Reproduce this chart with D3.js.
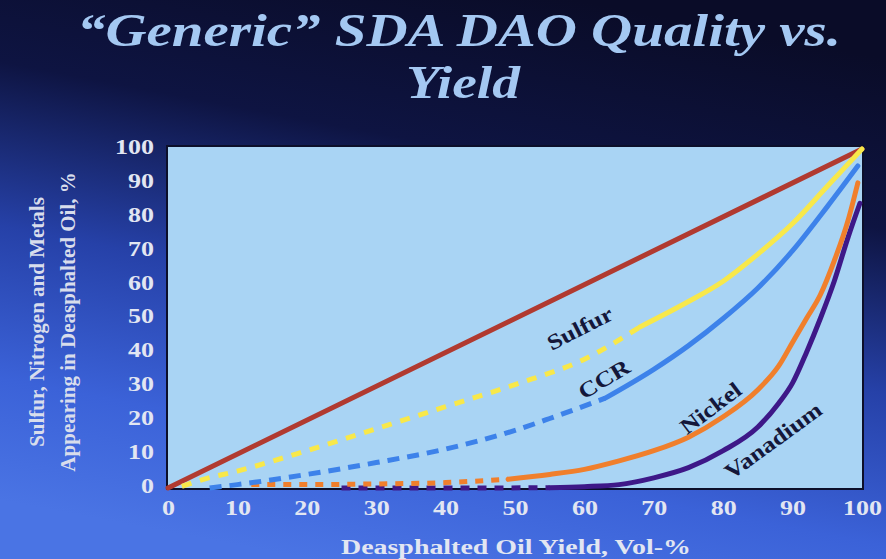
<!DOCTYPE html>
<html>
<head>
<meta charset="utf-8">
<script src="https://cdn.jsdelivr.net/npm/d3@7"></script>
<style>
  html, body { margin: 0; padding: 0; background: #0b0d2c; }
  svg { display: block; }
</style>
</head>
<body>
<svg id="chart" width="886" height="559"></svg>
<script>
// Deasphalted oil yield, vol-% (x) vs. share of each contaminant carried into DAO, % (y)
const xTicks = [0, 10, 20, 30, 40, 50, 60, 70, 80, 90, 100];
const yTicks = [0, 10, 20, 30, 40, 50, 60, 70, 80, 90, 100];

// Reference: everything follows the oil (1:1)
const refX = [0, 100];
const refY = [0, 100];

// Sulfur
const sulfurX = [2, 5, 10, 20, 30, 40, 50, 60, 68, 75, 80, 85, 90, 95, 100];
const sulfurY = [0.5, 2.5, 5, 11, 17.5, 24, 30.5, 38, 47.5, 55, 61, 69, 78, 89, 100];
const sulfurDashEnd = 68;

// Conradson carbon residue
const ccrX = [6, 10, 20, 30, 40, 50, 55, 63, 70, 75, 80, 85, 90, 95, 99.4];
const ccrY = [0, 1, 4, 7.5, 11.5, 17, 20.5, 26.5, 35, 42, 50, 59, 70, 83, 95];
const ccrDashEnd = 63;

// Nickel
const nickelX = [12, 20, 30, 40, 49, 55, 60, 65, 70, 75, 80, 85, 88, 90, 92, 94, 96, 98, 99.4];
const nickelY = [1, 1, 1.2, 1.6, 2.6, 4, 5.5, 8, 11, 15, 21, 29, 36, 43, 50, 57, 67, 79, 90];
const nickelDashEnd = 49;

// Vanadium
const vanadiumX = [25, 35, 45, 55, 60, 65, 70, 75, 80, 85, 88, 90, 92, 94, 96, 98, 99.7];
const vanadiumY = [0, 0, 0, 0.1, 0.4, 1, 3, 6, 11, 18, 25, 31, 40, 50, 61, 74, 84];
const vanadiumDashEnd = 55;

const seriesNames = ["Sulfur", "CCR", "Nickel", "Vanadium"];
const seriesColors = ["#f8e84a", "#3d82ea", "#f07f2c", "#3e1888"];
// label anchor in data units and text rotation (deg)
const labelX = [59.5, 63, 78.4, 87.4];
const labelY = [46.5, 31.5, 23, 13.4];
const labelAngle = [-27, -31, -37, -36];

const svg = d3.select("#chart");
const W = 886, H = 559;
const serif = "'Liberation Serif', 'Times New Roman', serif";
const axisColor = "#e2e6f2";

// widen a text element horizontally by a factor (or to an exact width)
function stretch(sel, factor, width) {
  sel.each(function () {
    const w = width || this.getComputedTextLength() * factor;
    d3.select(this).attr("textLength", w).attr("lengthAdjust", "spacingAndGlyphs");
  });
}

// background gradient: dark navy on top fading to royal blue at the bottom
const defs = svg.append("defs");
const bg = defs.append("linearGradient").attr("id", "bg")
  .attr("x1", "0.65").attr("y1", "0").attr("x2", "0.35").attr("y2", "1");
bg.append("stop").attr("offset", "0").attr("stop-color", "#0a0c28");
bg.append("stop").attr("offset", "0.28").attr("stop-color", "#0e1442");
bg.append("stop").attr("offset", "0.55").attr("stop-color", "#2641a8");
bg.append("stop").attr("offset", "0.8").attr("stop-color", "#3b62d8");
bg.append("stop").attr("offset", "1").attr("stop-color", "#4a74e4");
svg.append("rect").attr("width", W).attr("height", H).attr("fill", "url(#bg)");

// title
const titleStyle = s => s.attr("text-anchor", "middle").attr("fill", "#a4c8f2")
  .style("font-family", serif).style("font-weight", "bold").style("font-style", "italic")
  .style("font-size", "46px");
svg.append("text").call(titleStyle).attr("x", 459).attr("y", 46)
  .text("\u201CGeneric\u201D SDA DAO Quality vs.").call(stretch, 1, 764);
svg.append("text").call(titleStyle).attr("x", 463).attr("y", 98)
  .text("Yield").call(stretch, 1, 114);

const margin = { left: 168, right: 862, top: 149, bottom: 488 };
const x = d3.scaleLinear().domain([0, 100]).range([margin.left, margin.right]);
const y = d3.scaleLinear().domain([0, 100]).range([margin.bottom, margin.top]);

// plot area
svg.append("rect")
  .attr("x", x(0) - 1).attr("y", y(100) - 3)
  .attr("width", x(100) - x(0) + 2).attr("height", y(0) - y(100) + 4)
  .attr("fill", "#a9d4f4")
  .attr("stroke", "#0c0f2a").attr("stroke-width", 2);

// y axis
const yAxis = svg.append("g").attr("transform", `translate(${x(0) - 14},-2)`)
  .call(d3.axisLeft(y).tickValues(yTicks).tickSize(0).tickPadding(0).tickFormat(d3.format("d")));
yAxis.select(".domain").remove();
yAxis.selectAll("text")
  .attr("fill", axisColor)
  .style("font-family", serif).style("font-weight", "bold").style("font-size", "20px")
  .call(stretch, 1.3);

// x axis
const xAxis = svg.append("g").attr("transform", `translate(0,${y(0) + 13})`)
  .call(d3.axisBottom(x).tickValues(xTicks).tickSize(0).tickPadding(0).tickFormat(d3.format("d")));
xAxis.select(".domain").remove();
xAxis.selectAll("text")
  .attr("fill", axisColor)
  .style("font-family", serif).style("font-weight", "bold").style("font-size", "20px")
  .call(stretch, 1.3);

// axis titles
svg.append("text")
  .attr("x", 516).attr("y", 554)
  .attr("text-anchor", "middle").attr("fill", axisColor)
  .style("font-family", serif).style("font-weight", "bold").style("font-size", "20px")
  .text("Deasphalted Oil Yield, Vol-%").call(stretch, 1, 350);

const yTitle = svg.append("text")
  .attr("transform", "translate(0,322) rotate(-90)")
  .attr("text-anchor", "middle").attr("fill", "#d8ddec")
  .style("font-family", serif).style("font-weight", "bold").style("font-size", "21px");
yTitle.append("tspan").attr("x", 0).attr("y", 44).text("Sulfur, Nitrogen and Metals");
yTitle.append("tspan").attr("x", 0).attr("y", 75).text("Appearing in Deasphalted Oil, %");

// lines
const plot = svg.append("g");
const line = d3.line().x(d => x(d[0])).y(d => y(d[1])).curve(d3.curveMonotoneX);

function drawSeries(xs, ys, dashEnd, color, dash) {
  const pts = xs.map((v, i) => [v, ys[i]]);
  const dashed = pts.filter(p => p[0] <= dashEnd);
  const solid = pts.filter(p => p[0] >= dashEnd);
  plot.append("path").attr("d", line(dashed))
    .attr("fill", "none").attr("stroke", color).attr("stroke-width", 5)
    .attr("stroke-dasharray", dash);
  plot.append("path").attr("d", line(solid))
    .attr("fill", "none").attr("stroke", color).attr("stroke-width", 5)
    .attr("stroke-linecap", "round");
}

// 1:1 reference line
plot.append("path")
  .attr("d", d3.line().x(d => x(d[0])).y(d => y(d[1]))(refX.map((v, i) => [v, refY[i]])))
  .attr("fill", "none").attr("stroke", "#b13a30").attr("stroke-width", 5)
  .attr("stroke-linecap", "round");

drawSeries(vanadiumX, vanadiumY, vanadiumDashEnd, seriesColors[3], "9 8");
drawSeries(nickelX, nickelY, nickelDashEnd, seriesColors[2], "8 8");
drawSeries(ccrX, ccrY, ccrDashEnd, seriesColors[1], "12 8");
drawSeries(sulfurX, sulfurY, sulfurDashEnd, seriesColors[0], "10 9");

// series labels
seriesNames.forEach((name, i) => {
  svg.append("text")
    .attr("transform", `translate(${x(labelX[i])},${y(labelY[i])}) rotate(${labelAngle[i]})`)
    .attr("text-anchor", "middle").attr("dominant-baseline", "middle")
    .attr("fill", "#14173a")
    .style("font-family", serif).style("font-weight", "bold").style("font-size", "22px")
    .text(name).call(stretch, 1.18);
});
</script>
</body>
</html>
